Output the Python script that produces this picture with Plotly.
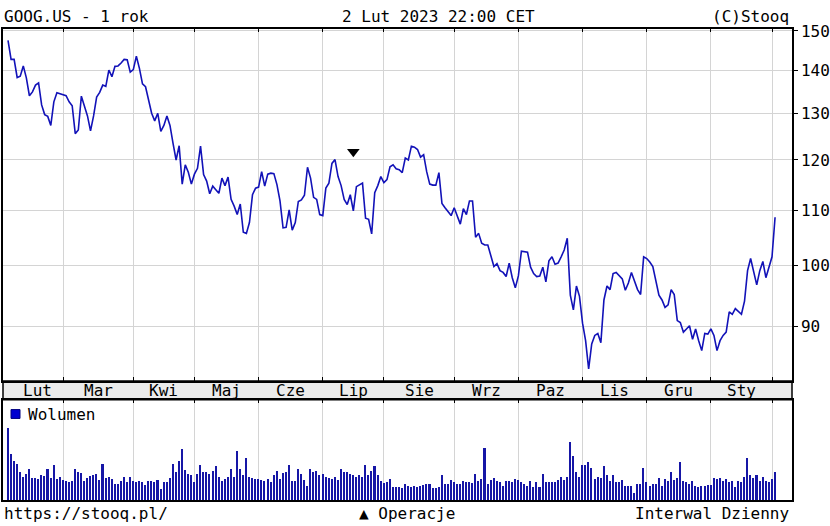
import plotly.graph_objects as go

W, H = 830, 526
FONT = "DejaVu Sans Mono"

# GOOG.US close, one value per trading day, 2 Feb 2022 .. 2 Feb 2023
price = [
    # Lut 2022 (from 2 Feb)
    147.6, 142.8, 142.8, 138.4, 138.7, 141.2, 138.3, 134.1, 135.0, 136.6,
    137.1, 132.0, 129.8, 129.4, 127.4, 132.7, 134.8, 134.6,
    # Mar
    134.3, 134.1, 132.7, 131.8, 125.6, 126.4, 134.0, 131.8, 129.5, 126.2,
    129.5, 133.8, 134.9, 136.6, 136.3, 140.2, 138.6, 141.1, 141.2, 141.9,
    142.8, 142.7, 139.7,
    # Kwi
    140.3, 143.6, 140.6, 136.9, 136.2, 133.0, 130.1, 128.4, 130.1, 126.1,
    127.4, 129.5, 127.4, 123.5, 120.0, 123.0, 115.1, 119.0, 117.5, 115.1,
    # Maj
    117.1, 118.3, 122.9, 117.0, 115.7, 113.2, 114.7, 114.0, 113.3, 116.3,
    114.8, 116.5, 112.1, 110.8, 109.2, 111.2, 105.9, 105.7, 107.7, 113.0,
    114.3,
    # Cze
    114.5, 117.6, 114.7, 117.1, 117.3, 117.2, 115.0, 111.8, 106.7, 106.8,
    110.1, 106.3, 107.7, 111.7, 112.0, 112.9, 118.5, 116.3, 112.5, 112.1,
    109.2,
    # Lip
    109.0, 114.3, 115.3, 119.3, 120.1, 116.6, 114.8, 112.1, 111.1, 113.0,
    109.9, 114.6, 114.9, 115.3, 108.5, 108.3, 105.6, 113.4, 114.8, 116.6,
    # Sie
    115.4, 116.0, 118.6, 119.0, 118.2, 118.0, 117.4, 120.4, 120.0, 122.9,
    122.7, 122.2, 120.6, 121.1, 117.6, 115.1, 114.9, 114.9, 117.4, 111.3,
    110.5, 109.8, 109.0,
    # Wrz
    110.5, 108.9, 107.4, 110.3, 109.2, 111.8, 111.8, 105.0, 105.7, 103.9,
    103.6, 103.6, 101.6, 99.8, 100.3, 99.1, 98.8, 98.1, 100.4, 97.9,
    96.2,
    # Paz
    98.2, 102.5, 102.4, 102.3, 99.7, 98.6, 98.1, 98.2, 99.7, 97.2,
    100.8, 101.5, 100.2, 100.4, 101.5, 102.7, 104.8, 95.0, 92.6, 96.5,
    94.8,
    # Lis
    90.5, 87.8, 83.6, 87.3, 88.6, 88.9, 87.5, 94.2, 96.5, 95.9,
    98.6, 98.8, 98.3, 97.7, 95.8, 97.0, 98.8, 97.3, 95.9, 95.1,
    101.5,
    # Gru
    101.2, 100.6, 99.8, 97.3, 95.0, 94.2, 93.0, 93.4, 95.9, 95.1,
    90.9, 90.6, 89.1, 89.6, 90.1, 88.0, 89.6, 87.8, 86.3, 88.9,
    88.8,
    # Sty 2023
    89.6, 88.6, 86.3, 87.8, 88.6, 89.1, 92.3, 91.9, 92.8, 92.3,
    91.9, 94.0, 99.1, 101.2, 98.9, 96.7, 99.1, 100.7, 97.9, 99.7,
    # Lut 2023
    101.5, 108.7,
]

# daily volume, millions of shares
volume = [
    96, 61, 53, 48, 38, 31, 35, 42, 30, 30,
    29, 34, 33, 42, 30, 47, 29, 31, 27, 26,
    25, 26, 42, 38, 36, 26, 30, 33, 34, 35,
    27, 49, 30, 31, 29, 22, 22, 26, 31, 25,
    31, 26, 25, 26, 25, 21, 26, 26, 25, 27,
    16, 25, 25, 30, 49, 38, 53, 68, 40, 35,
    34, 25, 35, 47, 38, 38, 35, 39, 46, 31,
    26, 29, 31, 42, 31, 65, 42, 34, 56, 31,
    30, 29, 29, 27, 26, 29, 25, 34, 39, 29,
    36, 38, 47, 26, 26, 42, 35, 27, 20, 42,
    38, 39, 34, 35, 31, 30, 29, 31, 27, 42,
    38, 38, 35, 34, 31, 34, 31, 47, 34, 39,
    46, 34, 26, 23, 25, 29, 18, 18, 18, 17,
    22, 20, 18, 20, 18, 20, 21, 22, 22, 17,
    17, 18, 34, 22, 22, 27, 25, 22, 22, 26,
    25, 25, 23, 35, 26, 29, 69, 22, 27, 30,
    26, 25, 20, 26, 26, 25, 29, 27, 25, 22,
    20, 26, 18, 25, 18, 35, 25, 25, 25, 25,
    27, 31, 27, 31, 77, 59, 38, 31, 47, 47,
    51, 43, 29, 31, 30, 46, 34, 26, 34, 25,
    25, 27, 20, 20, 20, 10, 22, 22, 43, 25,
    20, 22, 22, 30, 20, 29, 26, 38, 27, 30,
    51, 26, 25, 22, 26, 20, 18, 20, 20, 21,
    21, 30, 29, 30, 26, 29, 25, 26, 18, 26,
    25, 31, 57, 34, 30, 34, 26, 31, 26, 25,
    29, 38,
]

assert len(price) == len(volume) == 252

# index of the first trading day of each month
month_start = [18, 41, 61, 82, 103, 123, 146, 167, 188, 209, 230, 250]
month_labels = ["Lut", "Mar", "Kwi", "Maj", "Cze", "Lip",
                "Sie", "Wrz", "Paz", "Lis", "Gru", "Sty"]
price_ticks = [90, 100, 110, 120, 130, 140, 150]

# stock split (Operacje marker)
split_idx = [113]
split_level = [121.7]

days = list(range(len(price)))


def px(x):
    return x / W


def py(y):
    return 1 - y / H


fig = go.Figure()
fig.add_trace(go.Scatter(
    x=days, y=price, mode="lines",
    line=dict(color="#1212b8", width=1.6),
    xaxis="x", yaxis="y", hoverinfo="x+y",
))
fig.add_trace(go.Scatter(
    x=split_idx, y=split_level, mode="markers",
    marker=dict(symbol="triangle-down", size=11, color="black"),
    xaxis="x", yaxis="y",
))
fig.add_trace(go.Bar(
    x=days, y=volume, width=0.5,
    marker=dict(color="#1616a6", line=dict(width=0)),
    xaxis="x2", yaxis="y2",
))

x_range = [-1.64, 256.54]
x_dom = [px(3), px(792)]
grid = "#d4d4d4"

fig.update_layout(
    width=W, height=H,
    margin=dict(l=0, r=0, t=0, b=0),
    paper_bgcolor="white", plot_bgcolor="white",
    showlegend=False,
    font=dict(family=FONT, size=16, color="black"),
    xaxis=dict(
        domain=x_dom, range=x_range, anchor="y",
        tickvals=month_start, showticklabels=False,
        ticks="inside", ticklen=4, tickcolor="black",
        showgrid=True, gridcolor=grid, gridwidth=1,
        showline=True, linecolor="black", linewidth=1.5, mirror="ticks",
        zeroline=False, fixedrange=True,
    ),
    yaxis=dict(
        domain=[py(379), py(22)], type="log",
        range=[1.91323, 2.17779], side="right",
        tickvals=price_ticks, ticktext=[str(v) for v in price_ticks],
        ticks="outside", ticklen=4, tickcolor="black",
        showgrid=True, gridcolor=grid, gridwidth=1,
        showline=True, linecolor="black", linewidth=1.5, mirror=True,
        zeroline=False, tickfont=dict(family=FONT, size=16),
    ),
    xaxis2=dict(
        domain=x_dom, range=x_range, anchor="y2", side="top",
        tickvals=month_start, showticklabels=False,
        ticks="inside", ticklen=4, tickcolor="black",
        showgrid=True, gridcolor=grid, gridwidth=1,
        showline=True, linecolor="black", linewidth=1.5, mirror=True,
        zeroline=False,
    ),
    yaxis2=dict(
        domain=[py(500), py(398)], range=[0, 133],
        showticklabels=False, ticks="", showgrid=False,
        showline=True, linecolor="black", linewidth=1.5, mirror=True,
        zeroline=False,
    ),
    bargap=0,
)

# month label band between the two panels
fig.add_shape(type="rect", xref="paper", yref="paper",
              x0=px(3), x1=px(792), y0=py(398), y1=py(379),
              fillcolor="#ebebeb", line=dict(color="black", width=1.5),
              layer="below")

edges = [1.6] + month_start
for lab, a, b in zip(month_labels, edges[:-1], edges[1:]):
    fig.add_annotation(x=(a + b) / 2, y=py(388.5), xref="x", yref="paper",
                       text=lab, showarrow=False, xanchor="center",
                       yanchor="middle", font=dict(family=FONT, size=16))

# volume legend
fig.add_shape(type="rect", xref="paper", yref="paper",
              x0=px(11), x1=px(20), y0=py(417), y1=py(408),
              fillcolor="#0000d0", line=dict(color="#000080", width=1))
fig.add_annotation(x=px(26), y=py(412.5), xref="paper", yref="paper",
                   text="Wolumen", showarrow=False, xanchor="left",
                   yanchor="middle", font=dict(family=FONT, size=16))

# header and footer texts
texts = [
    ("GOOG.US - 1 rok", 2, 10, "left"),
    ("2 Lut 2023 22:00 CET", 438, 10, "center"),
    ("(C)Stooq", 791, 10, "right"),
    ("https://stooq.pl/", 2, 513, "left"),
    ("▲ Operacje", 407, 513, "center"),
    ("Interwal Dzienny", 791, 513, "right"),
]
for txt, x, y, anchor in texts:
    fig.add_annotation(x=px(x), y=py(y), xref="paper", yref="paper",
                       text=txt, showarrow=False, xanchor=anchor,
                       yanchor="middle", font=dict(family=FONT, size=16))

# the page body has a default 8px margin; drop it so the chart fills the window
fig.write_html("out.html",
               config={"displayModeBar": False},
               post_script="document.body.style.margin='0';"
                           "document.body.style.overflow='hidden';")
